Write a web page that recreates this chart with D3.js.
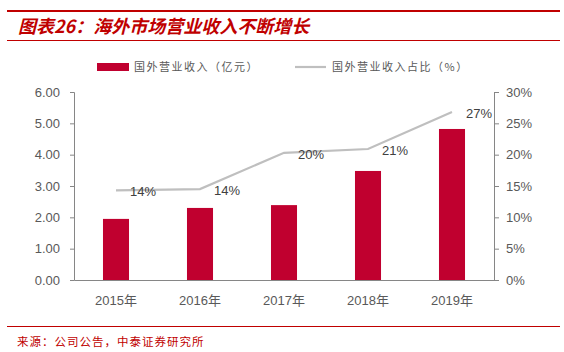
<!DOCTYPE html>
<html>
<head>
<meta charset="utf-8">
<script src="https://cdn.jsdelivr.net/npm/d3@7"></script>
<style>
  body { margin: 0; background: #fff; }
  text { font-family: "Liberation Sans", Arial, "Noto Sans CJK SC", sans-serif; }
  .cjk { font-family: "Noto Sans CJK SC", sans-serif; }
</style>
</head>
<body>
<div id="canvas"></div>
<script>
"use strict"

let svgWidth = 564;
let svgHeight = 352;

// chart data
let years = ["2015年", "2016年", "2017年", "2018年", "2019年"];
let revenue = [1.95, 2.30, 2.39, 3.48, 4.82];          // 国外营业收入（亿元）
let share = [14.3, 14.5, 20.3, 20.9, 26.8];            // 国外营业收入占比（%）
let shareLabels = ["14%", "14%", "20%", "21%", "27%"];
let leftTicks = [0, 1, 2, 3, 4, 5, 6];
let rightTicks = [0, 5, 10, 15, 20, 25, 30];

let red = "#c00000";
let barColor = "#c0002f";
let lineColor = "#bfbfbf";
let axisColor = "#868686";
let tickText = "#595959";

let plotLeft = 74, plotRight = 494, plotTop = 92, plotBottom = 280;

let svg = d3.select("#canvas")
    .append("svg")
    .attr("width", svgWidth)
    .attr("height", svgHeight);

/* header and footer rules */
svg.append("rect").attr("x", 7).attr("y", 10).attr("width", 553).attr("height", 2).attr("fill", red);
svg.append("rect").attr("x", 7).attr("y", 40).attr("width", 553).attr("height", 1).attr("fill", red);
svg.append("rect").attr("x", 7).attr("y", 326).attr("width", 553).attr("height", 1).attr("fill", red);

svg.append("text")
    .attr("class", "cjk")
    .attr("x", 18)
    .attr("y", 33)
    .attr("fill", red)
    .attr("font-size", 18)
    .attr("font-weight", "bold")
    .attr("font-style", "italic")
    .text("图表26：海外市场营业收入不断增长");

svg.append("text")
    .attr("class", "cjk")
    .attr("x", 17)
    .attr("y", 346)
    .attr("fill", red)
    .attr("font-size", 11.5)
    .attr("letter-spacing", 1)
    .text("来源：公司公告，中泰证券研究所");

/* scales */
let xScale = d3.scaleBand()
    .domain(years)
    .range([plotLeft, plotRight])
    .paddingInner(0.69)
    .paddingOuter(0.345);

let yLeft = d3.scaleLinear()
    .domain([0, 6])
    .range([plotBottom, plotTop]);

let yRight = d3.scaleLinear()
    .domain([0, 30])
    .range([plotBottom, plotTop]);

/* bars */
svg.selectAll("rect.bar")
    .data(revenue)
    .join("rect")
    .attr("class", "bar")
    .attr("x", (d, i) => xScale(years[i]))
    .attr("y", d => yLeft(d))
    .attr("width", xScale.bandwidth())
    .attr("height", d => yLeft(0) - yLeft(d))
    .attr("fill", barColor);

/* line */
let line = d3.line()
    .x((d, i) => xScale(years[i]) + xScale.bandwidth() / 2)
    .y(d => yRight(d));

svg.append("path")
    .datum(share)
    .attr("d", line)
    .attr("fill", "none")
    .attr("stroke", lineColor)
    .attr("stroke-width", 2.2);

svg.selectAll("text.dataLabel")
    .data(share)
    .join("text")
    .attr("class", "dataLabel")
    .attr("x", (d, i) => xScale(years[i]) + xScale.bandwidth() / 2 + 14)
    .attr("y", d => yRight(d) + 6)
    .attr("font-size", 13)
    .attr("fill", "#404040")
    .text((d, i) => shareLabels[i]);

/* axes */
function styleAxis(g) {
    g.select(".domain").attr("stroke", axisColor);
    g.selectAll(".tick line").attr("stroke", axisColor);
    g.selectAll(".tick text")
        .attr("fill", tickText)
        .attr("font-size", 13)
        .attr("font-family", "'Liberation Sans', Arial, sans-serif");
}

svg.append("g")
    .attr("transform", `translate(${plotLeft},0)`)
    .call(d3.axisLeft(yLeft).tickValues(leftTicks).tickFormat(d3.format(".2f")).tickSize(4).tickSizeOuter(4).tickPadding(10))
    .call(styleAxis);

svg.append("g")
    .attr("transform", `translate(${plotRight},0)`)
    .call(d3.axisRight(yRight).tickValues(rightTicks).tickFormat(d => d + "%").tickSize(5).tickSizeOuter(5).tickPadding(7))
    .call(styleAxis);

let xAxis = svg.append("g")
    .attr("transform", `translate(0,${plotBottom})`)
    .call(d3.axisBottom(xScale).tickSize(0).tickSizeOuter(0).tickPadding(16))
    .call(styleAxis);

/* legend */
svg.append("rect")
    .attr("x", 97).attr("y", 63)
    .attr("width", 32).attr("height", 8)
    .attr("fill", barColor);

svg.append("text")
    .attr("class", "cjk")
    .attr("x", 134).attr("y", 71)
    .attr("font-size", 11)
    .attr("letter-spacing", 1.5)
    .attr("fill", tickText)
    .text("国外营业收入（亿元）");

svg.append("line")
    .attr("x1", 295).attr("x2", 326)
    .attr("y1", 67).attr("y2", 67)
    .attr("stroke", lineColor)
    .attr("stroke-width", 2.2);

svg.append("text")
    .attr("class", "cjk")
    .attr("x", 332).attr("y", 71)
    .attr("font-size", 11)
    .attr("letter-spacing", 1.5)
    .attr("fill", tickText)
    .text("国外营业收入占比（%）");
</script>
</body>
</html>
